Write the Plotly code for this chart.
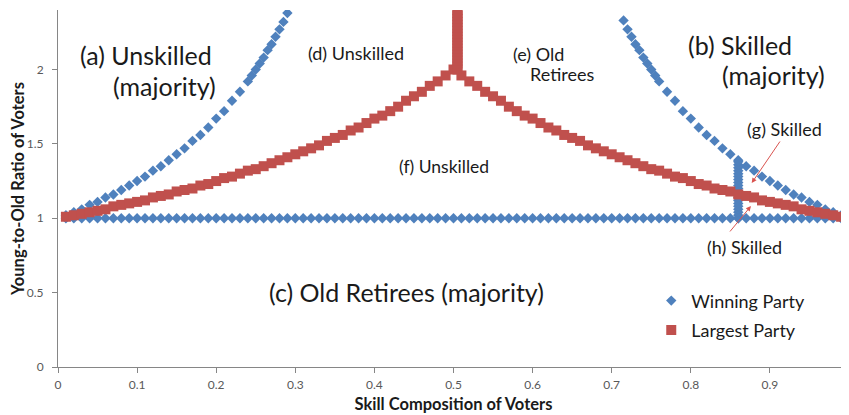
import plotly.graph_objects as go

# ---------------- data ----------------
# Winning Party (blue diamonds)
win_flat_x = [0.01, 0.02, 0.03, 0.04, 0.05, 0.06, 0.07, 0.08, 0.09, 0.10,
              0.11, 0.12, 0.13, 0.14, 0.15, 0.16, 0.17, 0.18, 0.19, 0.20,
              0.21, 0.22, 0.23, 0.24, 0.25, 0.26, 0.27, 0.28, 0.29, 0.30,
              0.31, 0.32, 0.33, 0.34, 0.35, 0.36, 0.37, 0.38, 0.39, 0.40,
              0.41, 0.42, 0.43, 0.44, 0.45, 0.46, 0.47, 0.48, 0.49, 0.50,
              0.51, 0.52, 0.53, 0.54, 0.55, 0.56, 0.57, 0.58, 0.59, 0.60,
              0.61, 0.62, 0.63, 0.64, 0.65, 0.66, 0.67, 0.68, 0.69, 0.70,
              0.71, 0.72, 0.73, 0.74, 0.75, 0.76, 0.77, 0.78, 0.79, 0.80,
              0.81, 0.82, 0.83, 0.84, 0.85, 0.86, 0.87, 0.88, 0.89, 0.90,
              0.91, 0.92, 0.93, 0.94, 0.95, 0.96, 0.97, 0.98, 0.99, 1.00]
win_flat_y = [1, 1, 1, 1, 1, 1, 1, 1, 1, 1,
              1, 1, 1, 1, 1, 1, 1, 1, 1, 1,
              1, 1, 1, 1, 1, 1, 1, 1, 1, 1,
              1, 1, 1, 1, 1, 1, 1, 1, 1, 1,
              1, 1, 1, 1, 1, 1, 1, 1, 1, 1,
              1, 1, 1, 1, 1, 1, 1, 1, 1, 1,
              1, 1, 1, 1, 1, 1, 1, 1, 1, 1,
              1, 1, 1, 1, 1, 1, 1, 1, 1, 1,
              1, 1, 1, 1, 1, 1, 1, 1, 1, 1,
              1, 1, 1, 1, 1, 1, 1, 1, 1, 1]

win_left_x = [0.01, 0.02, 0.03, 0.04, 0.05, 0.06, 0.07, 0.08, 0.09, 0.10,
              0.11, 0.12, 0.13, 0.14, 0.15, 0.16, 0.17, 0.18, 0.19, 0.20,
              0.21, 0.22, 0.23, 0.24, 0.245, 0.25, 0.255, 0.26, 0.265, 0.27,
              0.275, 0.28, 0.285, 0.29, 0.295]
win_left_y = [1.02, 1.04, 1.06, 1.09, 1.11, 1.14, 1.16, 1.19, 1.22, 1.25,
              1.28, 1.32, 1.35, 1.39, 1.43, 1.47, 1.52, 1.56, 1.61, 1.67,
              1.72, 1.79, 1.85, 1.92, 1.96, 2.00, 2.04, 2.08, 2.13, 2.17,
              2.22, 2.27, 2.32, 2.38, 2.44]

win_right_x = [0.715, 0.72, 0.725, 0.73, 0.735, 0.74, 0.745, 0.75, 0.755, 0.76,
               0.77, 0.78, 0.79, 0.80,
               0.81, 0.82, 0.83, 0.84, 0.85, 0.86, 0.87, 0.88, 0.89, 0.90,
               0.91, 0.92, 0.93, 0.94, 0.95, 0.96, 0.97, 0.98, 0.99, 1.00]
win_right_y = [2.33, 2.27, 2.22, 2.17, 2.13, 2.08, 2.04, 2.00, 1.96, 1.92,
               1.85, 1.79, 1.72, 1.67,
               1.61, 1.56, 1.52, 1.47, 1.43, 1.39, 1.35, 1.32, 1.28, 1.25,
               1.22, 1.19, 1.16, 1.14, 1.11, 1.09, 1.06, 1.04, 1.02, 1.00]

win_vert_x = [0.86, 0.86, 0.86, 0.86, 0.86, 0.86, 0.86, 0.86, 0.86, 0.86,
              0.86, 0.86, 0.86, 0.86, 0.86, 0.86, 0.86, 0.86, 0.86, 0.86]
win_vert_y = [1.00, 1.02, 1.04, 1.06, 1.08, 1.10, 1.12, 1.14, 1.16, 1.18,
              1.20, 1.22, 1.24, 1.26, 1.28, 1.30, 1.32, 1.34, 1.36, 1.38]

# Largest Party (red squares)
lar_up_x = [0.01, 0.02, 0.03, 0.04, 0.05, 0.06, 0.07, 0.08, 0.09, 0.10,
            0.11, 0.12, 0.13, 0.14, 0.15, 0.16, 0.17, 0.18, 0.19, 0.20,
            0.21, 0.22, 0.23, 0.24, 0.25, 0.26, 0.27, 0.28, 0.29, 0.30,
            0.31, 0.32, 0.33, 0.34, 0.35, 0.36, 0.37, 0.38, 0.39, 0.40,
            0.41, 0.42, 0.43, 0.44, 0.45, 0.46, 0.47, 0.48, 0.49, 0.50]
lar_up_y = [1.01, 1.02, 1.03, 1.04, 1.05, 1.06, 1.08, 1.09, 1.10, 1.11,
            1.12, 1.14, 1.15, 1.16, 1.18, 1.19, 1.20, 1.22, 1.23, 1.25,
            1.27, 1.28, 1.30, 1.32, 1.33, 1.35, 1.37, 1.39, 1.41, 1.43,
            1.45, 1.47, 1.49, 1.52, 1.54, 1.56, 1.59, 1.61, 1.64, 1.67,
            1.69, 1.72, 1.75, 1.79, 1.82, 1.85, 1.89, 1.92, 1.96, 2.00]

lar_vert_x = [0.505, 0.505, 0.505, 0.505, 0.505, 0.505, 0.505, 0.505, 0.505, 0.505,
              0.505, 0.505, 0.505, 0.505, 0.505, 0.505, 0.505, 0.505, 0.505, 0.505, 0.505]
lar_vert_y = [2.00, 2.02, 2.04, 2.06, 2.08, 2.10, 2.12, 2.14, 2.16, 2.18,
              2.20, 2.22, 2.24, 2.26, 2.28, 2.30, 2.32, 2.34, 2.36, 2.38, 2.40]

lar_down_x = [0.51, 0.52, 0.53, 0.54, 0.55, 0.56, 0.57, 0.58, 0.59, 0.60,
              0.61, 0.62, 0.63, 0.64, 0.65, 0.66, 0.67, 0.68, 0.69, 0.70,
              0.71, 0.72, 0.73, 0.74, 0.75, 0.76, 0.77, 0.78, 0.79, 0.80,
              0.81, 0.82, 0.83, 0.84, 0.85, 0.86, 0.87, 0.88, 0.89, 0.90,
              0.91, 0.92, 0.93, 0.94, 0.95, 0.96, 0.97, 0.98, 0.99, 1.00]
lar_down_y = [1.96, 1.92, 1.89, 1.85, 1.82, 1.79, 1.75, 1.72, 1.69, 1.67,
              1.64, 1.61, 1.59, 1.56, 1.54, 1.52, 1.49, 1.47, 1.45, 1.43,
              1.41, 1.39, 1.37, 1.35, 1.33, 1.32, 1.30, 1.28, 1.27, 1.25,
              1.23, 1.22, 1.20, 1.19, 1.18, 1.16, 1.15, 1.14, 1.12, 1.11,
              1.10, 1.09, 1.08, 1.06, 1.05, 1.04, 1.03, 1.02, 1.01, 1.00]

x_tick_vals = [0, 0.1, 0.2, 0.3, 0.4, 0.5, 0.6, 0.7, 0.8, 0.9, 1]
x_tick_text = ["0", "0.1", "0.2", "0.3", "0.4", "0.5", "0.6", "0.7", "0.8", "0.9", "1"]
y_tick_vals = [0, 0.5, 1, 1.5, 2]
y_tick_text = ["0", "0.5", "1", "1.5", "2"]

# ---------------- figure ----------------
BLUE = "#4F81BD"
RED = "#C0504D"
FONT = "Lato"
TXT = "#1a1a1a"

fig = go.Figure()
fig.add_trace(go.Scatter(
    x=win_flat_x + win_left_x + win_right_x + win_vert_x,
    y=win_flat_y + win_left_y + win_right_y + win_vert_y,
    mode="markers", name="Winning Party", legendgroup="w",
    marker=dict(symbol="diamond", size=8, color=BLUE, line=dict(width=0)),
))
fig.add_trace(go.Scatter(
    x=lar_up_x + lar_vert_x + lar_down_x,
    y=lar_up_y + lar_vert_y + lar_down_y,
    mode="markers", name="Largest Party", legendgroup="l",
    marker=dict(symbol="square", size=10, color=RED, line=dict(width=0)),
))

def txt(x, y, s, size):
    fig.add_annotation(x=x, y=y, xref="x", yref="y", text=s, showarrow=False,
                       font=dict(family=FONT, size=size, color=TXT),
                       xanchor="center", yanchor="middle")

txt(0.111, 2.097, "(a) Unskilled", 25)
txt(0.135, 1.889, "(majority)", 25)
txt(0.377, 2.111, "(d) Unskilled", 18)
txt(0.607, 2.104, "(e) Old", 18)
txt(0.637, 1.970, "Retirees", 18)
txt(0.862, 2.165, "(b) Skilled", 25)
txt(0.905, 1.963, "(majority)", 25)
txt(0.488, 1.345, "(f) Unskilled", 17.5)
txt(0.918, 1.600, "(g) Skilled", 18)
txt(0.8685, 0.807, "(h) Skilled", 18)
txt(0.440, 0.504, "(c) Old Retirees (majority)", 25)

# red pointer arrows
fig.add_annotation(x=0.877, y=1.237, ax=0.914, ay=1.526, xref="x", yref="y",
                   axref="x", ayref="y", text="", showarrow=True,
                   arrowhead=2, arrowsize=1, arrowwidth=1, arrowcolor="#D9534F")
fig.add_annotation(x=0.876, y=1.082, ax=0.848, ay=0.901, xref="x", yref="y",
                   axref="x", ayref="y", text="", showarrow=True,
                   arrowhead=2, arrowsize=1, arrowwidth=1, arrowcolor="#D9534F")

axis_col = "#868686"
fig.update_layout(
    width=849, height=415,
    # the page body adds an 8px offset; margins compensate so the plot area
    # sits at the reference position in the browser window
    margin=dict(l=50, r=8, t=2, b=56, autoexpand=False),
    paper_bgcolor="white", plot_bgcolor="white",
    font=dict(family=FONT, color=TXT),
    showlegend=True,
    legend=dict(x=0.750, y=0.237, xanchor="left", yanchor="top",
                traceorder="grouped", tracegroupgap=3, itemwidth=30,
                bgcolor="rgba(0,0,0,0)", font=dict(family=FONT, size=18, color=TXT)),
    xaxis=dict(range=[0, 1], tickmode="array", tickvals=x_tick_vals, ticktext=x_tick_text,
               automargin=False,
               showgrid=False, zeroline=False, showline=True, linecolor=axis_col, linewidth=1,
               ticks="outside", ticklen=5, tickcolor=axis_col, ticklabelstandoff=2,
               tickfont=dict(family=FONT, size=12, color="#595959"),
               title=dict(text="<b>Skill Composition of Voters</b>", standoff=7,
                          font=dict(family=FONT, size=16.5, color=TXT))),
    yaxis=dict(range=[0, 2.4], tickmode="array", tickvals=y_tick_vals, ticktext=y_tick_text,
               automargin=False,
               showgrid=False, zeroline=False, showline=True, linecolor=axis_col, linewidth=1,
               ticks="outside", ticklen=5, tickcolor=axis_col, ticklabelstandoff=6,
               tickfont=dict(family=FONT, size=12, color="#595959"),
               title=dict(text="<b>Young-to-Old Ratio of Voters</b>", standoff=6,
                          font=dict(family=FONT, size=16.5, color=TXT))),
)

fig.write_html("out.html")
